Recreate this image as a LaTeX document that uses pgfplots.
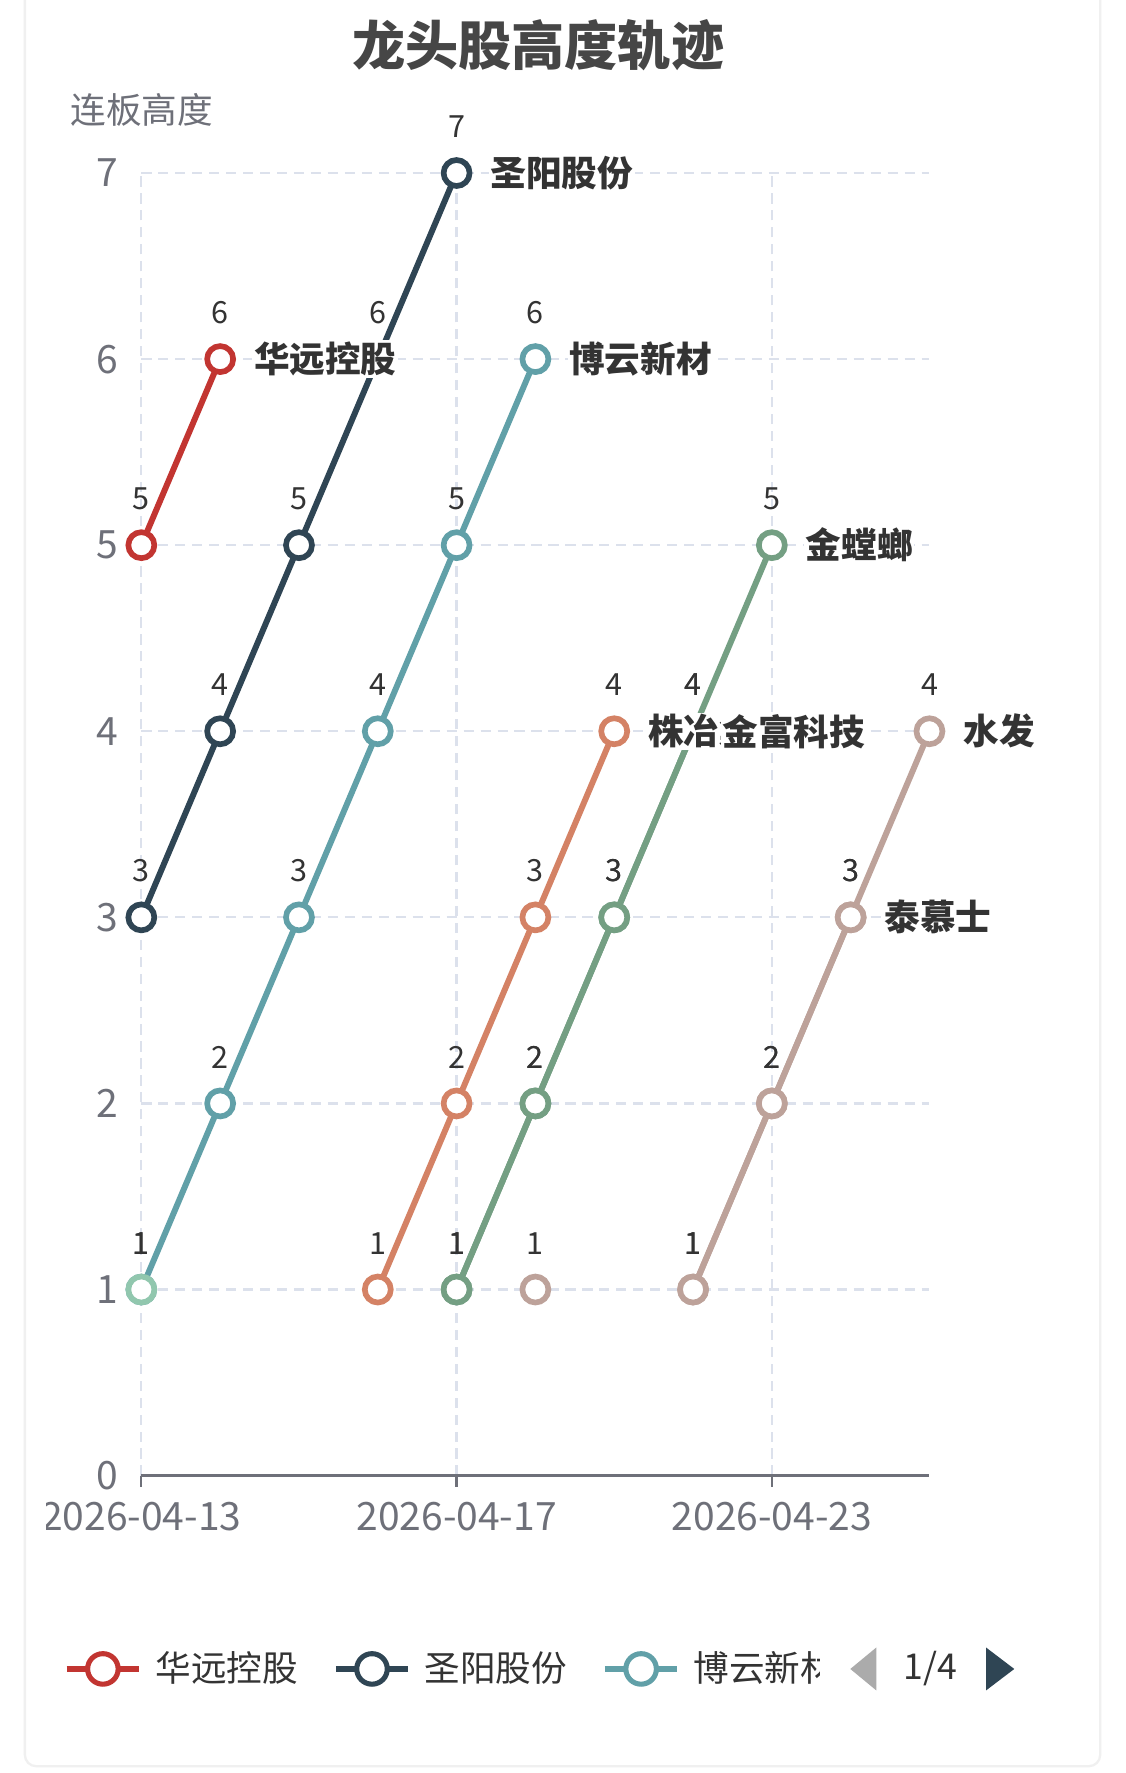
\documentclass[border=0pt]{standalone}
\usepackage{fontspec}
\setmainfont{Noto Sans CJK SC}
\usepackage{pgfplots}
\pgfplotsset{compat=1.18}
\definecolor{cRed}{HTML}{C23531}
\definecolor{cDark}{HTML}{2F4554}
\definecolor{cTeal}{HTML}{61A0A8}
\definecolor{cOrange}{HTML}{D48265}
\definecolor{cLGreen}{HTML}{91C7AE}
\definecolor{cGreen}{HTML}{749F83}
\definecolor{cBeige}{HTML}{BDA29A}
\definecolor{axisgray}{HTML}{6E7079}
\definecolor{gridc}{HTML}{DCE1EC}
\definecolor{labc}{HTML}{333333}
\definecolor{titlec}{HTML}{464646}
\begin{document}
\begin{tikzpicture}
\useasboundingbox (0,0) rectangle (398pt,627.2pt);
\fill[white] (0,0) rectangle (398pt,627.2pt);
\begin{axis}[
  at={(50pt,105.2pt)}, anchor=south west,
  scale only axis, width=278.8pt, height=460.8pt,
  xmin=0, xmax=10, ymin=0, ymax=7,
  axis lines=left,
  axis line style={-},
  x axis line style={draw=axisgray, line width=1.2pt},
  y axis line style={draw=none},
  xtick={0,4,8},
  xticklabels={2026-04-13,2026-04-17,2026-04-23},
  ytick={0,1,...,7},
  tick align=outside,
  major tick length=4pt,
  xtick style={draw=axisgray, line width=0.8pt},
  ytick style={draw=none},
  tick label style={font=\fontsize{13.8}{16}\selectfont, text=axisgray},
  yticklabel style={xshift=-0.6pt},
  xticklabel style={yshift=-2pt},
  /pgf/number format/assume math mode=true,
  grid=major,
  grid style={gridc, line width=0.8pt, dash pattern=on 3.6pt off 2.4pt},
  clip=false,
  point meta=y,
  nodes near coords={\pgfmathprintnumber{\pgfplotspointmeta}},
  every node near coord/.append style={anchor=center, yshift=16.4pt, font=\fontsize{10.8}{12}\selectfont, text=labc},
  every axis plot/.append style={line width=2.1pt, mark=*, mark size=4.6pt, mark options={fill=white, line width=2pt, solid}},
  legend image code/.code={\draw[#1, line width=2pt] (0pt,0pt) -- (25.6pt,0pt); \draw[#1, fill=white, line width=1.8pt] (12.8pt,0pt) circle (5.4pt);},
  legend style={at={(rel axis cs:-0.0990,-0.1484)}, anchor=west, draw=none, fill=none, legend columns=-1, font=\fontsize{12.6}{14}\selectfont, text=labc, inner sep=0pt, nodes={inner sep=0pt}, /tikz/every odd column/.append style={column sep=4.8pt}, /tikz/every even column/.append style={column sep=12.4pt}},
]
\addplot[color=cRed] coordinates {(0,5) (1,6)};
\addlegendentry{华远控股}
\addplot[color=cDark] coordinates {(0,3) (1,4) (2,5) (3,6) (4,7)};
\addlegendentry{圣阳股份}
\addplot[color=cTeal] coordinates {(0,1) (1,2) (2,3) (3,4) (4,5) (5,6)};
\addlegendentry{博云新材}
\addplot[color=cOrange, forget plot] coordinates {(3,1) (4,2) (5,3) (6,4)};
\addplot[color=cLGreen, forget plot] coordinates {(0,1)};
\addplot[color=cGreen, forget plot] coordinates {(4,1) (5,2) (6,3) (7,4)};
\addplot[color=cGreen, forget plot] coordinates {(4,1) (5,2) (6,3) (7,4) (8,5)};
\addplot[color=cBeige, forget plot] coordinates {(5,1)};
\addplot[color=cBeige, forget plot] coordinates {(7,1) (8,2) (9,3)};
\addplot[color=cBeige, forget plot] coordinates {(7,1) (8,2) (9,3) (10,4)};
\coordinate (Lhy) at (axis cs:1,6);
\coordinate (Lsy) at (axis cs:4,7);
\coordinate (Lby) at (axis cs:5,6);
\coordinate (Lzy) at (axis cs:6,4);
\coordinate (Ljf) at (axis cs:7,4);
\coordinate (Ljt) at (axis cs:8,5);
\coordinate (Ltm) at (axis cs:9,3);
\coordinate (Lsf) at (axis cs:10,4);
\end{axis}
\tikzset{namelab/.style={anchor=west, xshift=11.2pt, fill=white, inner sep=0.6pt, text=labc, font=\fontsize{12.6}{14}\selectfont\bfseries}}
\node[namelab] at (Lhy) {华远控股};
\node[namelab] at (Lsy) {圣阳股份};
\node[namelab] at (Lby) {博云新材};
\node[namelab] at (Lzy) {株冶集团};
\node[namelab, xshift=-1.6pt] at (Ljf) {金富科技};
\node[namelab] at (Ljt) {金螳螂};
\node[namelab] at (Ltm) {泰慕士};
\node[namelab] at (Lsf) {水发};
% clip of first tick label and legend text
\fill[white] (0,75pt) rectangle (16.4pt,102pt);
\fill[white] (290pt,28pt) rectangle (299.6pt,46pt);
% legend pager
\fill[black!33] (300.8pt,36.8pt) -- (310pt,44.4pt) -- (310pt,29.2pt) -- cycle;
\node[text=labc, font=\fontsize{12.6}{14}\selectfont] at (329.2pt,36.8pt) {1/4};
\fill[cDark] (348.8pt,44.4pt) -- (348.8pt,29.2pt) -- (358.8pt,36.8pt) -- cycle;
% title and axis name
\node[text=titlec, font=\fontsize{18.8}{22}\selectfont\bfseries] at (190.4pt,611.2pt) {龙头股高度轨迹};
\node[anchor=west, inner sep=0pt, text=axisgray, font=\fontsize{12.6}{14}\selectfont] at (24.8pt,588.4pt) {连板高度};
% card border
\draw[black!6, line width=0.8pt, rounded corners=4pt] (8.8pt,2.4pt) rectangle (389.2pt,640pt);
\end{tikzpicture}
\end{document}
